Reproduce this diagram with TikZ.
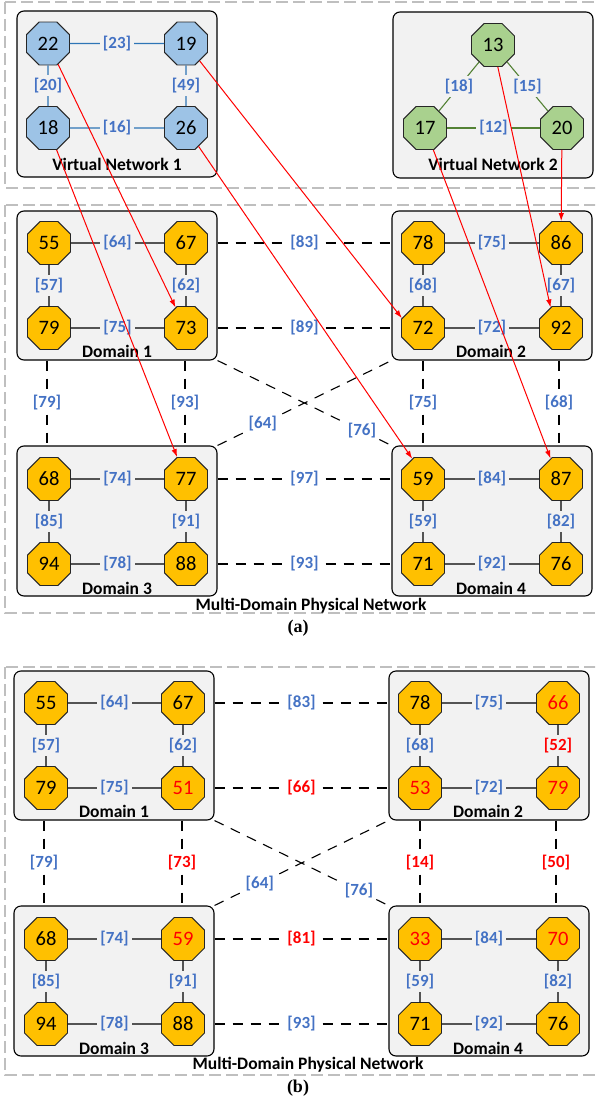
\documentclass[tikz,border=0pt]{standalone}
\usepackage{fontspec}
\setmainfont{Carlito}
\newfontfamily\capfont{Liberation Serif}
\usetikzlibrary{shapes.geometric,arrows.meta}
\definecolor{lblue}{HTML}{4472C4}
\definecolor{vblue}{HTML}{9DC3E6}
\definecolor{vgreen}{HTML}{A9D18E}
\definecolor{gold}{HTML}{FFC000}
\definecolor{boxfill}{HTML}{F2F2F2}
\definecolor{blueline}{HTML}{2E75B6}
\definecolor{greenline}{HTML}{548235}
\definecolor{outgray}{HTML}{BFBFBF}
\tikzset{
  oct/.style={regular polygon, regular polygon sides=8, minimum size=46.5pt, inner sep=0pt,
    draw=black!85, line width=0.9pt, font=\fontsize{20.5}{24}\selectfont},
  vnode/.style={oct, fill=vblue},
  gnode/.style={oct, fill=vgreen},
  pnode/.style={oct, fill=gold},
  rnum/.style={pnode, text=red},
  dom/.style={draw=black, line width=1.1pt, rounded corners=7pt, fill=boxfill, inner sep=0pt},
  dombox/.style={dom, minimum width=200pt, minimum height=149pt},
  outerbox/.style={draw=outgray, line width=1.2pt, dash pattern=on 12pt off 5pt},
  elab/.style={font=\bfseries\fontsize{17}{20}\selectfont, text=lblue, inner sep=3pt},
  ilab/.style={elab, fill=boxfill},
  olab/.style={elab, fill=white},
  red label/.style={text=red},
  link/.style={line width=1.1pt, black},
  vlink/.style={line width=1.1pt, blueline},
  glink/.style={line width=1.1pt, greenline},
  xlink/.style={line width=1.1pt, black, dash pattern=on 10pt off 8pt},
  maparrow/.style={red, line width=1pt, -{Latex[length=8pt,width=5.5pt]}},
  title/.style={font=\bfseries\fontsize{17.5}{20}\selectfont, inner sep=0pt},
  subcap/.style={font=\capfont\bfseries\fontsize{18}{20}\selectfont, inner sep=0pt},
}
\begin{document}
\begin{tikzpicture}[x=1pt,y=-1pt]
\useasboundingbox (0,0) rectangle (595,1102);
\clip (0,0) rectangle (595,1102);

% ================= (a) virtual networks =================
\draw[outerbox] (5,2) rectangle (598,188);
\node[dom, minimum width=200pt, minimum height=166pt] (vn1) at (117,94) {};
\node[dom, minimum width=200pt, minimum height=166pt] (vn2) at (493,95) {};

\node[vnode] (v22) at (48,43.5) {22};
\node[vnode] (v19) at (186,43.5) {19};
\node[vnode] (v18) at (48,128) {18};
\node[vnode] (v26) at (186,128) {26};
\draw[vlink] (v22) -- node[ilab]{[23]} (v19);
\draw[vlink] (v22) -- node[ilab]{[20]} (v18);
\draw[vlink] (v19) -- node[ilab]{[49]} (v26);
\draw[vlink] (v18) -- node[ilab]{[16]} (v26);
\node[title] (vt1) at (117,164) {Virtual Network 1};

\node[gnode] (g13) at (493,45) {13};
\node[gnode] (g17) at (425,128) {17};
\node[gnode] (g20) at (562,128) {20};
\draw[glink] (g13) -- node[ilab]{[18]} (g17);
\draw[glink] (g13) -- node[ilab]{[15]} (g20);
\draw[glink] (g17) -- node[ilab]{[12]} (g20);
\node[title] (vt2) at (493,164) {Virtual Network 2};

% ================= (a) physical network =================
\draw[outerbox] (5,205) rectangle (598,613);
\node[dombox] (aD1) at (117,285.5) {};
\node[dombox] (aD2) at (492,285.5) {};
\node[dombox, minimum height=150pt] (aD3) at (117,521) {};
\node[dombox, minimum height=150pt] (aD4) at (492,521) {};

\node[pnode] (a1tl) at (49,243) {55};
\node[pnode] (a1tr) at (186,243) {67};
\node[pnode] (a1bl) at (49,328) {79};
\node[pnode] (a1br) at (186,328) {73};
\node[pnode] (a2tl) at (423,243) {78};
\node[pnode] (a2tr) at (561,243) {86};
\node[pnode] (a2bl) at (423,328) {72};
\node[pnode] (a2br) at (561,328) {92};
\node[pnode] (a3tl) at (49,479) {68};
\node[pnode] (a3tr) at (186,479) {77};
\node[pnode] (a3bl) at (49,564) {94};
\node[pnode] (a3br) at (186,564) {88};
\node[pnode] (a4tl) at (423,479) {59};
\node[pnode] (a4tr) at (561,479) {87};
\node[pnode] (a4bl) at (423,564) {71};
\node[pnode] (a4br) at (561,564) {76};

\draw[link] (a1tl) -- node[ilab]{[64]} (a1tr);
\draw[link] (a1tl) -- node[ilab]{[57]} (a1bl);
\draw[link] (a1tr) -- node[ilab]{[62]} (a1br);
\draw[link] (a1bl) -- node[ilab]{[75]} (a1br);
\draw[link] (a2tl) -- node[ilab]{[75]} (a2tr);
\draw[link] (a2tl) -- node[ilab]{[68]} (a2bl);
\draw[link] (a2tr) -- node[ilab]{[67]} (a2br);
\draw[link] (a2bl) -- node[ilab]{[72]} (a2br);
\draw[link] (a3tl) -- node[ilab]{[74]} (a3tr);
\draw[link] (a3tl) -- node[ilab]{[85]} (a3bl);
\draw[link] (a3tr) -- node[ilab]{[91]} (a3br);
\draw[link] (a3bl) -- node[ilab]{[78]} (a3br);
\draw[link] (a4tl) -- node[ilab]{[84]} (a4tr);
\draw[link] (a4tl) -- node[ilab]{[59]} (a4bl);
\draw[link] (a4tr) -- node[ilab]{[82]} (a4br);
\draw[link] (a4bl) -- node[ilab]{[92]} (a4br);

\node[title] (aL1) at (117,351.5) {Domain 1};
\node[title] (aL2) at (491,351.5) {Domain 2};
\node[title] (aL3) at (117,588) {Domain 3};
\node[title] (aL4) at (491,588) {Domain 4};

\draw[xlink] (aD1.east |- a1tr) -- node[olab]{[83]} (aD2.west |- a2tl);
\draw[xlink] (aD1.east |- a1br) -- node[olab]{[89]} (aD2.west |- a2bl);
\draw[xlink] (aD3.east |- a3tr) -- node[olab]{[97]} (aD4.west |- a4tl);
\draw[xlink] (aD3.east |- a3br) -- node[olab]{[93]} (aD4.west |- a4bl);
\draw[xlink] ([xshift=-2pt]aD1.south -| a1bl) -- node[olab]{[79]} ([xshift=-2pt]aD3.north -| a3tl);
\draw[xlink] ([xshift=-1pt]aD1.south -| a1br) -- node[olab]{[93]} ([xshift=-1pt]aD3.north -| a3tr);
\draw[xlink] (aD2.south -| a2bl) -- node[olab]{[75]} (aD4.north -| a4tl);
\draw[xlink] ([xshift=-2pt]aD2.south -| a2br) -- node[olab]{[68]} ([xshift=-2pt]aD4.north -| a4tr);
\draw[xlink] (aD1.south east) -- node[olab, pos=0.83]{[76]} (aD4.north west);
\draw[xlink] (aD3.north east) -- node[olab, pos=0.26]{[64]} (aD2.south west);

\node[title] (aT) at (311,606) {Multi-Domain Physical Network};
\node[subcap] (capa) at (298,628) {(a)};

% mapping arrows
\draw[maparrow] (v22) -- (a1br.117);
\draw[maparrow] (v19) -- (a2bl.155);
\draw[maparrow] (v18) -- (a3tr.112);
\draw[maparrow] (v26) -- (a4tl.118);
\draw[maparrow] (g17) -- (a4tr.117);
\draw[maparrow] (g13) -- (a2br.117);
\draw[maparrow] (g20) -- (a2tr);

% ================= (b) physical network =================
\draw[outerbox] (5,667) rectangle (598,1075);
\begin{scope}[shift={(-3,460)}]
\node[dombox] (bD1) at (117,285.5) {};
\node[dombox] (bD2) at (492,285.5) {};
\node[dombox, minimum height=150pt] (bD3) at (117,521) {};
\node[dombox, minimum height=150pt] (bD4) at (492,521) {};

\node[pnode] (b1tl) at (49,243) {55};
\node[pnode] (b1tr) at (186,243) {67};
\node[pnode] (b1bl) at (49,328) {79};
\node[rnum] (b1br) at (186,328) {51};
\node[pnode] (b2tl) at (423,243) {78};
\node[rnum] (b2tr) at (561,243) {66};
\node[rnum] (b2bl) at (423,328) {53};
\node[rnum] (b2br) at (561,328) {79};
\node[pnode] (b3tl) at (49,479) {68};
\node[rnum] (b3tr) at (186,479) {59};
\node[pnode] (b3bl) at (49,564) {94};
\node[pnode] (b3br) at (186,564) {88};
\node[rnum] (b4tl) at (423,479) {33};
\node[rnum] (b4tr) at (561,479) {70};
\node[pnode] (b4bl) at (423,564) {71};
\node[pnode] (b4br) at (561,564) {76};

\draw[link] (b1tl) -- node[ilab]{[64]} (b1tr);
\draw[link] (b1tl) -- node[ilab]{[57]} (b1bl);
\draw[link] (b1tr) -- node[ilab]{[62]} (b1br);
\draw[link] (b1bl) -- node[ilab]{[75]} (b1br);
\draw[link] (b2tl) -- node[ilab]{[75]} (b2tr);
\draw[link] (b2tl) -- node[ilab]{[68]} (b2bl);
\draw[link] (b2tr) -- node[ilab, red label]{[52]} (b2br);
\draw[link] (b2bl) -- node[ilab]{[72]} (b2br);
\draw[link] (b3tl) -- node[ilab]{[74]} (b3tr);
\draw[link] (b3tl) -- node[ilab]{[85]} (b3bl);
\draw[link] (b3tr) -- node[ilab]{[91]} (b3br);
\draw[link] (b3bl) -- node[ilab]{[78]} (b3br);
\draw[link] (b4tl) -- node[ilab]{[84]} (b4tr);
\draw[link] (b4tl) -- node[ilab]{[59]} (b4bl);
\draw[link] (b4tr) -- node[ilab]{[82]} (b4br);
\draw[link] (b4bl) -- node[ilab]{[92]} (b4br);

\node[title] (bL1) at (117,351.5) {Domain 1};
\node[title] (bL2) at (491,351.5) {Domain 2};
\node[title] (bL3) at (117,588) {Domain 3};
\node[title] (bL4) at (491,588) {Domain 4};

\draw[xlink] (bD1.east |- b1tr) -- node[olab]{[83]} (bD2.west |- b2tl);
\draw[xlink] (bD1.east |- b1br) -- node[olab, red label]{[66]} (bD2.west |- b2bl);
\draw[xlink] (bD3.east |- b3tr) -- node[olab, red label]{[81]} (bD4.west |- b4tl);
\draw[xlink] (bD3.east |- b3br) -- node[olab]{[93]} (bD4.west |- b4bl);
\draw[xlink] ([xshift=-2pt]bD1.south -| b1bl) -- node[olab]{[79]} ([xshift=-2pt]bD3.north -| b3tl);
\draw[xlink] ([xshift=-1pt]bD1.south -| b1br) -- node[olab, red label]{[73]} ([xshift=-1pt]bD3.north -| b3tr);
\draw[xlink] (bD2.south -| b2bl) -- node[olab, red label]{[14]} (bD4.north -| b4tl);
\draw[xlink] ([xshift=-2pt]bD2.south -| b2br) -- node[olab, red label]{[50]} ([xshift=-2pt]bD4.north -| b4tr);
\draw[xlink] (bD1.south east) -- node[olab, pos=0.83]{[76]} (bD4.north west);
\draw[xlink] (bD3.north east) -- node[olab, pos=0.26]{[64]} (bD2.south west);
\end{scope}
\node[title] (bT) at (308,1065) {Multi-Domain Physical Network};
\node[subcap] (capb) at (298,1088) {(b)};
\end{tikzpicture}
\end{document}
